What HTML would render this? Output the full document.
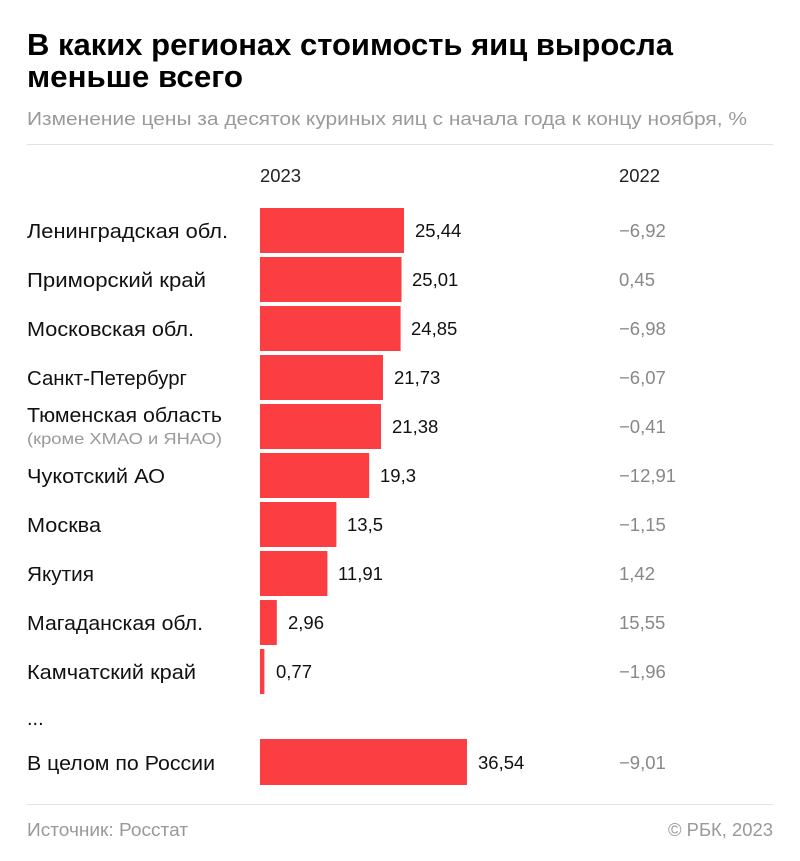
<!DOCTYPE html>
<html><head><meta charset="utf-8"><style>
html,body{margin:0;padding:0;background:#fff;}
svg{display:block;font-family:"Liberation Sans",sans-serif;}
</style></head><body>
<svg width="800" height="861" viewBox="0 0 800 861">
<text x="27" y="55" font-size="31" font-weight="bold" fill="#000" textLength="646" lengthAdjust="spacingAndGlyphs">В каких регионах стоимость яиц выросла</text>
<text x="27" y="87" font-size="31" font-weight="bold" fill="#000" textLength="216" lengthAdjust="spacingAndGlyphs">меньше всего</text>
<text x="27" y="125" font-size="18" fill="#9a9a9a" textLength="720" lengthAdjust="spacingAndGlyphs">Изменение цены за десяток куриных яиц с начала года к концу ноября, %</text>
<line x1="27" y1="144.5" x2="773" y2="144.5" stroke="#e2e2e2" stroke-width="1"/>
<text x="260" y="182" font-size="18" fill="#222" textLength="41" lengthAdjust="spacingAndGlyphs">2023</text>
<text x="619" y="182" font-size="18" fill="#222" textLength="41" lengthAdjust="spacingAndGlyphs">2022</text>
<g fill="#fa3e42">
<rect x="260" y="208" width="144" height="45"/>
<rect x="260" y="257" width="141.5" height="45"/>
<rect x="260" y="306" width="140.6" height="45"/>
<rect x="260" y="355" width="123" height="45"/>
<rect x="260" y="404" width="121" height="45"/>
<rect x="260" y="453" width="109.2" height="45"/>
<rect x="260" y="502" width="76.4" height="45"/>
<rect x="260" y="551" width="67.4" height="45"/>
<rect x="260" y="600" width="16.8" height="45"/>
<rect x="260" y="649" width="4.4" height="45"/>
<rect x="260" y="739" width="207" height="46"/>
</g>
<g font-size="20" fill="#111" lengthAdjust="spacingAndGlyphs">
<text x="27" y="238" textLength="201" lengthAdjust="spacingAndGlyphs">Ленинградская обл.</text>
<text x="27" y="287" textLength="179" lengthAdjust="spacingAndGlyphs">Приморский край</text>
<text x="27" y="336" textLength="167" lengthAdjust="spacingAndGlyphs">Московская обл.</text>
<text x="27" y="385" textLength="160" lengthAdjust="spacingAndGlyphs">Санкт-Петербург</text>
<text x="27" y="422" textLength="195" lengthAdjust="spacingAndGlyphs">Тюменская область</text>
<text x="27" y="483" textLength="138" lengthAdjust="spacingAndGlyphs">Чукотский АО</text>
<text x="27" y="532" textLength="74" lengthAdjust="spacingAndGlyphs">Москва</text>
<text x="27" y="581" textLength="67" lengthAdjust="spacingAndGlyphs">Якутия</text>
<text x="27" y="630" textLength="176" lengthAdjust="spacingAndGlyphs">Магаданская обл.</text>
<text x="27" y="679" textLength="169" lengthAdjust="spacingAndGlyphs">Камчатский край</text>
<text x="27" y="725">...</text>
<text x="27" y="770" textLength="188" lengthAdjust="spacingAndGlyphs">В целом по России</text>
</g>
<text x="27" y="444" font-size="16" fill="#999" textLength="195" lengthAdjust="spacingAndGlyphs">(кроме ХМАО и ЯНАО)</text>
<g font-size="18.5" fill="#111">
<text x="415" y="237">25,44</text>
<text x="412" y="286">25,01</text>
<text x="411" y="335">24,85</text>
<text x="394" y="384">21,73</text>
<text x="392" y="433">21,38</text>
<text x="380" y="482">19,3</text>
<text x="347" y="531">13,5</text>
<text x="338" y="580">11,91</text>
<text x="288" y="629">2,96</text>
<text x="276" y="678">0,77</text>
<text x="478" y="769">36,54</text>
</g>
<g font-size="18.5" fill="#888">
<text x="619" y="237">−6,92</text>
<text x="619" y="286">0,45</text>
<text x="619" y="335">−6,98</text>
<text x="619" y="384">−6,07</text>
<text x="619" y="433">−0,41</text>
<text x="619" y="482">−12,91</text>
<text x="619" y="531">−1,15</text>
<text x="619" y="580">1,42</text>
<text x="619" y="629">15,55</text>
<text x="619" y="678">−1,96</text>
<text x="619" y="769">−9,01</text>
</g>
<line x1="27" y1="804.5" x2="773" y2="804.5" stroke="#e2e2e2" stroke-width="1"/>
<text x="27" y="836" font-size="18" fill="#999" textLength="161" lengthAdjust="spacingAndGlyphs">Источник: Росстат</text>
<text x="668" y="836" font-size="18" fill="#999" textLength="105" lengthAdjust="spacingAndGlyphs">© РБК, 2023</text>
</svg>
</body></html>
